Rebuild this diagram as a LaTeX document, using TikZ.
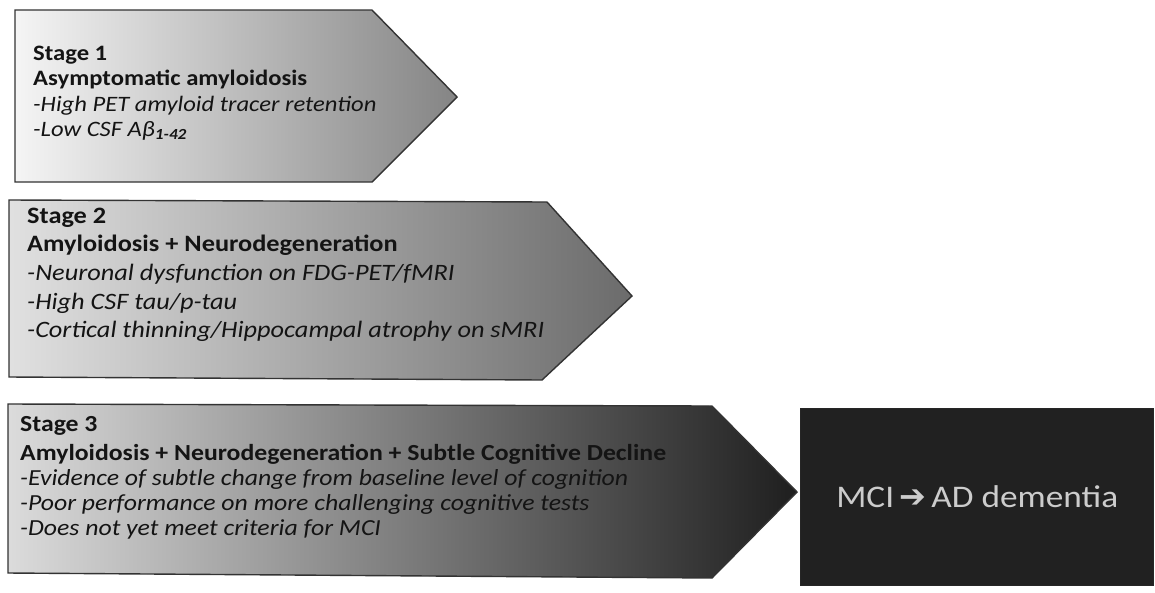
\documentclass[tikz,border=0pt]{standalone}
\usepackage{fontspec}
\setmainfont{Carlito}[FakeStretch=1.12]
\newfontfamily\symfont{DejaVu Sans}
\begin{document}
\begin{tikzpicture}[x=1pt,y=1pt,
  stagebox/.style={draw=black!80,line width=1.4pt,line join=miter},
  stagetext/.style={anchor=north west,align=left,inner sep=0pt,text=black!92},
  finalbox/.style={draw=black!85,line width=1.4pt,fill=black!87,
    text=white!80!black,font=\fontsize{31.5}{36}\selectfont}]
\useasboundingbox (0,-592) rectangle (1155,0);
\fill[white] (0,-592) rectangle (1155,0);
% Stage 1 arrow
\path[stagebox,left color=black!4,right color=black!48]
  (15,-10) -- (372,-10) -- (457,-97) -- (372,-182) -- (15,-182) -- cycle;
% Stage 2 arrow
\path[stagebox,left color=black!12,right color=black!58]
  (9,-200) -- (547,-202) -- (632,-296) -- (542,-380) -- (9,-377) -- cycle;
% Stage 3 arrow
\path[stagebox,left color=black!14,right color=black!88]
  (8,-404) -- (712,-406) -- (797,-492) -- (712,-578) -- (8,-573) -- cycle;
% texts
\node[stagetext,font=\fontsize{22}{25.5}\selectfont] (s1) at (33,-45.5)
  {\textbf{Stage 1}\\\textbf{Asymptomatic amyloidosis}\\
  \textit{-High PET amyloid tracer retention}\\
  \textit{-Low CSF Aβ\textsubscript{\textbf{1-42}}}};
\node[stagetext,font=\fontsize{23.5}{28.7}\selectfont] (s2) at (27,-207.5)
  {\textbf{Stage 2}\\\textbf{Amyloidosis + Neurodegeneration}\\
  \textit{-Neuronal dysfunction on FDG-PET/fMRI}\\
  \textit{-High CSF tau/p-tau}\\
  \textit{-Cortical thinning/Hippocampal atrophy on sMRI}};
\node[stagetext,font=\fontsize{23}{25.3}\selectfont] (s3) at (20,-416.5)
  {\textbf{Stage 3}\\[3pt]\textbf{Amyloidosis + Neurodegeneration + Subtle Cognitive Decline}\\
  \textit{-Evidence of subtle change from baseline level of cognition}\\
  \textit{-Poor performance on more challenging cognitive tests}\\
  \textit{-Does not yet meet criteria for MCI}};
% final box
\node[finalbox,minimum width=353pt,minimum height=177pt,inner sep=0pt,anchor=north west]
  (mci) at (800,-408) {\raisebox{2pt}{MCI\,{\symfont\fontsize{32}{34}\selectfont ➔}\,AD dementia}};
\end{tikzpicture}
\end{document}
